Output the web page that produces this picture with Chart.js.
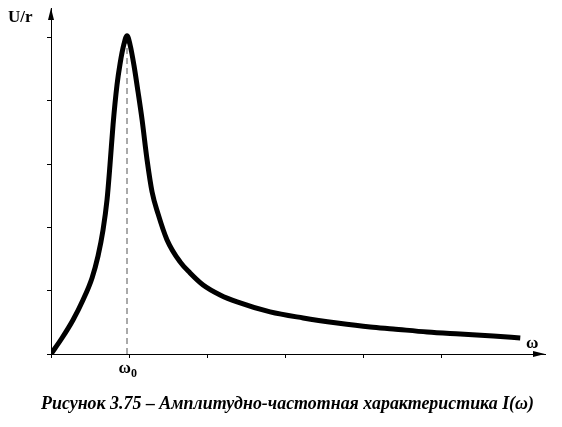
<!DOCTYPE html>
<html>
<head>
<meta charset="utf-8">
<script src="https://cdn.jsdelivr.net/npm/chart.js@4.4.1/dist/chart.umd.min.js"></script>
<style>
  html, body { margin: 0; padding: 0; background: #fff; }
  #wrap { width: 562px; height: 427px; position: relative; }
</style>
</head>
<body>
<div id="wrap"><canvas id="afc"></canvas></div>
<script>
// ── Data (x in ω-tick units, y in U/r-tick units) ──
const omegaVals = [0, 0.141, 0.282, 0.410, 0.526, 0.603, 0.667, 0.718, 0.756, 0.795,
                   0.846, 0.885, 0.936, 0.974, 1.013, 1.064, 1.115, 1.167, 1.231, 1.295,
                   1.372, 1.487, 1.654, 1.782, 1.949, 2.167, 2.385, 2.808, 3.231, 3.667,
                   4.090, 4.385, 4.821, 5.244, 5.667, 6.013];
const currentVals = [0, 0.253, 0.538, 0.854, 1.203, 1.551, 1.962, 2.437, 2.991, 3.623,
                     4.256, 4.589, 4.905, 5.032, 4.889, 4.557, 4.146, 3.703, 3.070, 2.563,
                     2.215, 1.804, 1.456, 1.282, 1.092, 0.934, 0.823, 0.665, 0.570, 0.491,
                     0.427, 0.396, 0.348, 0.316, 0.285, 0.253];
const resonanceX = 0.974;
const resonancePeak = 5.03;
const xTicks = [0, 1, 2, 3, 4, 5];
const yTicks = [0, 1, 2, 3, 4, 5];
const X_MAX = 6.33;
const Y_MAX = 5.47;

const yLabel   = "U/r";
const xLabel   = "ω";
const w0Label  = "ω";
const w0Sub    = "0";
const caption  = "Рисунок 3.75 – Амплитудно-частотная характеристика I(ω)";

// ── Extra drawing: arrows, axis names, caption ─────────────────────────────
const decor = {
  id: "decor",
  afterDraw(chart) {
    const { ctx, chartArea: a, scales } = chart;
    const x0 = scales.x.getPixelForValue(0);
    const y0 = scales.y.getPixelForValue(0);
    ctx.save();
    ctx.fillStyle = "#000";

    // arrow heads
    ctx.beginPath();
    ctx.moveTo(x0, a.top);
    ctx.lineTo(x0 - 3, a.top + 12);
    ctx.lineTo(x0 + 3, a.top + 12);
    ctx.closePath();
    ctx.fill();
    ctx.beginPath();
    ctx.moveTo(a.right, y0);
    ctx.lineTo(a.right - 12, y0 - 3);
    ctx.lineTo(a.right - 12, y0 + 3);
    ctx.closePath();
    ctx.fill();

    // axis names
    ctx.textBaseline = "alphabetic";
    ctx.font = "bold 17px 'Liberation Serif', serif";
    ctx.textAlign = "left";
    ctx.fillText(yLabel, 8, 22);
    ctx.fillText(xLabel, 526, 348);

    // ω0 under the resonance tick
    const wx = scales.x.getPixelForValue(xTicks[1]);
    ctx.textAlign = "right";
    ctx.fillText(w0Label, wx + 2, 373);
    ctx.textAlign = "left";
    ctx.font = "bold 12px 'Liberation Serif', serif";
    ctx.fillText(w0Sub, wx + 2, 377);

    // caption, stretched to the picture's width
    ctx.font = "italic bold 18px 'Liberation Serif', serif";
    const w = ctx.measureText(caption).width;
    const target = 493;
    ctx.translate(41, 409);
    ctx.scale(target / w, 1);
    ctx.fillText(caption, 0, 0);
    ctx.restore();
  }
};

// ── Chart ──────────────────────────────────────────────────────────────────
const ctx = document.getElementById("afc").getContext("2d");
new Chart(ctx, {
  type: "line",
  data: {
    datasets: [
      {
        label: "I(ω)",
        data: omegaVals.map((v, i) => ({ x: v, y: currentVals[i] })),
        borderColor: "#000",
        borderWidth: 5,
        pointRadius: 0,
        cubicInterpolationMode: "monotone",
        fill: false,
      },
      {
        label: "ω0",
        data: [{ x: resonanceX, y: 0 }, { x: resonanceX, y: resonancePeak }],
        borderColor: "#555",
        borderWidth: 1,
        borderDash: [6, 4],
        pointRadius: 0,
        fill: false,
      },
    ],
  },
  options: {
    responsive: true,
    maintainAspectRatio: false,
    animation: false,
    devicePixelRatio: 1,
    layout: { padding: { left: 47, right: 17, top: 8, bottom: 69 } },
    plugins: { legend: { display: false }, tooltip: { enabled: false } },
    scales: {
      x: {
        type: "linear",
        min: 0, max: X_MAX,
        afterBuildTicks: s => { s.ticks = xTicks.map(v => ({ value: v })); },
        afterFit: s => { s.height = 4; },
        ticks: { display: false },
        grid: { display: true, drawOnChartArea: false, drawTicks: true, tickLength: 4, color: "#000", lineWidth: 1 },
        border: { display: true, color: "#000", width: 1 },
      },
      y: {
        type: "linear",
        min: 0, max: Y_MAX,
        afterBuildTicks: s => { s.ticks = yTicks.map(v => ({ value: v })); },
        afterFit: s => { s.width = 4; },
        ticks: { display: false },
        grid: { display: true, drawOnChartArea: false, drawTicks: true, tickLength: 4, color: "#000", lineWidth: 1 },
        border: { display: true, color: "#000", width: 1 },
      },
    },
  },
  plugins: [decor],
});
</script>
</body>
</html>
